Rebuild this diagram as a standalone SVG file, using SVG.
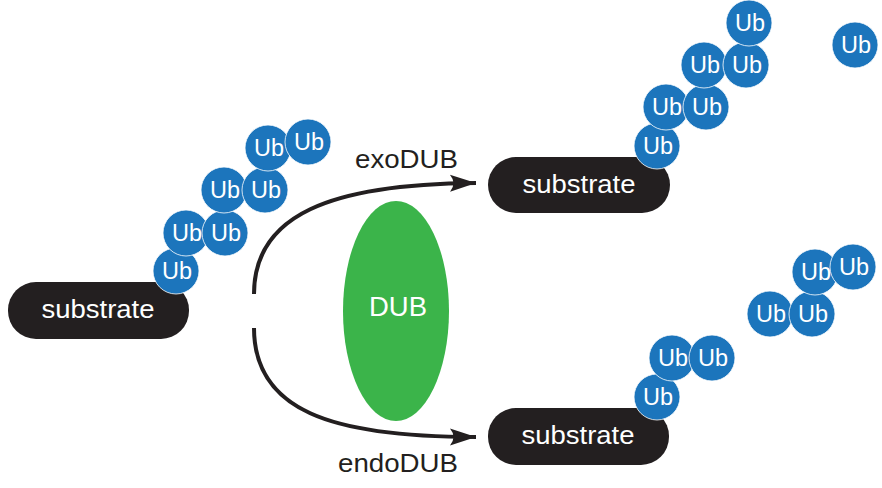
<svg xmlns="http://www.w3.org/2000/svg" width="882" height="488" viewBox="0 0 882 488">
<style>
.sub{fill:#231F20}
.subt{fill:#fff;font-family:"Liberation Sans",Arial,sans-serif;font-size:26px;text-anchor:middle}
.ub circle{fill:#1C75BC;stroke:#fff;stroke-width:0.8}
.ub text{fill:#fff;font-family:"Liberation Sans",Arial,sans-serif;font-size:23px;text-anchor:middle}
.lbl{fill:#231F20;font-family:"Liberation Sans",Arial,sans-serif;font-size:25px;text-anchor:end}
.arr{fill:none;stroke:#231F20;stroke-width:4}
</style>
<defs>
<marker id="ah" markerUnits="userSpaceOnUse" markerWidth="30" markerHeight="20" viewBox="-27 -10 29 20" refX="0" refY="0" orient="auto">
<path d="M0,0 L-26,-8.5 Q-19,0 -26,8.5 Z" fill="#231F20"/>
</marker>
</defs>
<g id="connectors">
<path class="arr" d="M254,294 C254,215 330,184 476,183" marker-end="url(#ah)"/>
<path class="arr" d="M254,328 C254,410 330,437 476,437" marker-end="url(#ah)"/>
</g>
<g id="dub">
<ellipse cx="396" cy="311" rx="53" ry="110" fill="#3BB44A"/>
<text x="398" y="316" fill="#fff" font-family="Liberation Sans, Arial, sans-serif" font-size="27" text-anchor="middle" textLength="58" lengthAdjust="spacingAndGlyphs">DUB</text>
</g>
<g id="label-exo"><text class="lbl" x="458" y="168" textLength="103" lengthAdjust="spacingAndGlyphs">exoDUB</text></g>
<g id="label-endo"><text class="lbl" x="458" y="472" textLength="120" lengthAdjust="spacingAndGlyphs">endoDUB</text></g>
<g id="substrate-left">
<rect class="sub" x="8" y="282" width="181" height="57" rx="28"/>
<text class="subt" x="98" y="318" textLength="113" lengthAdjust="spacingAndGlyphs">substrate</text>
</g>
<g id="chain-left" class="ub">
<circle cx="176" cy="271" r="23"/><text x="177" y="279" textLength="30" lengthAdjust="spacingAndGlyphs">Ub</text>
<circle cx="186" cy="233" r="23"/><text x="187" y="241" textLength="30" lengthAdjust="spacingAndGlyphs">Ub</text>
<circle cx="225" cy="233" r="23"/><text x="226" y="241" textLength="30" lengthAdjust="spacingAndGlyphs">Ub</text>
<circle cx="224" cy="190" r="23"/><text x="225" y="198" textLength="30" lengthAdjust="spacingAndGlyphs">Ub</text>
<circle cx="265" cy="190" r="23"/><text x="266" y="198" textLength="30" lengthAdjust="spacingAndGlyphs">Ub</text>
<circle cx="268" cy="148" r="23"/><text x="269" y="156" textLength="30" lengthAdjust="spacingAndGlyphs">Ub</text>
<circle cx="308" cy="142" r="23"/><text x="309" y="150" textLength="30" lengthAdjust="spacingAndGlyphs">Ub</text>
</g>
<g id="substrate-top">
<rect class="sub" x="488" y="157" width="182" height="56" rx="28"/>
<text class="subt" x="579" y="193" textLength="113" lengthAdjust="spacingAndGlyphs">substrate</text>
</g>
<g id="chain-top" class="ub">
<circle cx="657" cy="146" r="23"/><text x="658" y="154" textLength="30" lengthAdjust="spacingAndGlyphs">Ub</text>
<circle cx="666" cy="107" r="23"/><text x="667" y="115" textLength="30" lengthAdjust="spacingAndGlyphs">Ub</text>
<circle cx="706" cy="107" r="23"/><text x="707" y="115" textLength="30" lengthAdjust="spacingAndGlyphs">Ub</text>
<circle cx="704" cy="65" r="23"/><text x="705" y="73" textLength="30" lengthAdjust="spacingAndGlyphs">Ub</text>
<circle cx="746" cy="65" r="23"/><text x="747" y="73" textLength="30" lengthAdjust="spacingAndGlyphs">Ub</text>
<circle cx="749" cy="23" r="23"/><text x="750" y="31" textLength="30" lengthAdjust="spacingAndGlyphs">Ub</text>
</g>
<g id="free-ub" class="ub">
<circle cx="855" cy="45" r="23"/><text x="856" y="53" textLength="30" lengthAdjust="spacingAndGlyphs">Ub</text>
</g>
<g id="substrate-bottom">
<rect class="sub" x="488" y="408" width="181" height="57" rx="28"/>
<text class="subt" x="578" y="444" textLength="113" lengthAdjust="spacingAndGlyphs">substrate</text>
</g>
<g id="chain-bottom" class="ub">
<circle cx="657" cy="397" r="23"/><text x="658" y="405" textLength="30" lengthAdjust="spacingAndGlyphs">Ub</text>
<circle cx="672" cy="358" r="23"/><text x="673" y="366" textLength="30" lengthAdjust="spacingAndGlyphs">Ub</text>
<circle cx="712" cy="358" r="23"/><text x="713" y="366" textLength="30" lengthAdjust="spacingAndGlyphs">Ub</text>
</g>
<g id="free-chain" class="ub">
<circle cx="770" cy="314" r="23"/><text x="771" y="322" textLength="30" lengthAdjust="spacingAndGlyphs">Ub</text>
<circle cx="812" cy="314" r="23"/><text x="813" y="322" textLength="30" lengthAdjust="spacingAndGlyphs">Ub</text>
<circle cx="815" cy="272" r="23"/><text x="816" y="280" textLength="30" lengthAdjust="spacingAndGlyphs">Ub</text>
<circle cx="853" cy="267" r="23"/><text x="854" y="275" textLength="30" lengthAdjust="spacingAndGlyphs">Ub</text>
</g>
</svg>
